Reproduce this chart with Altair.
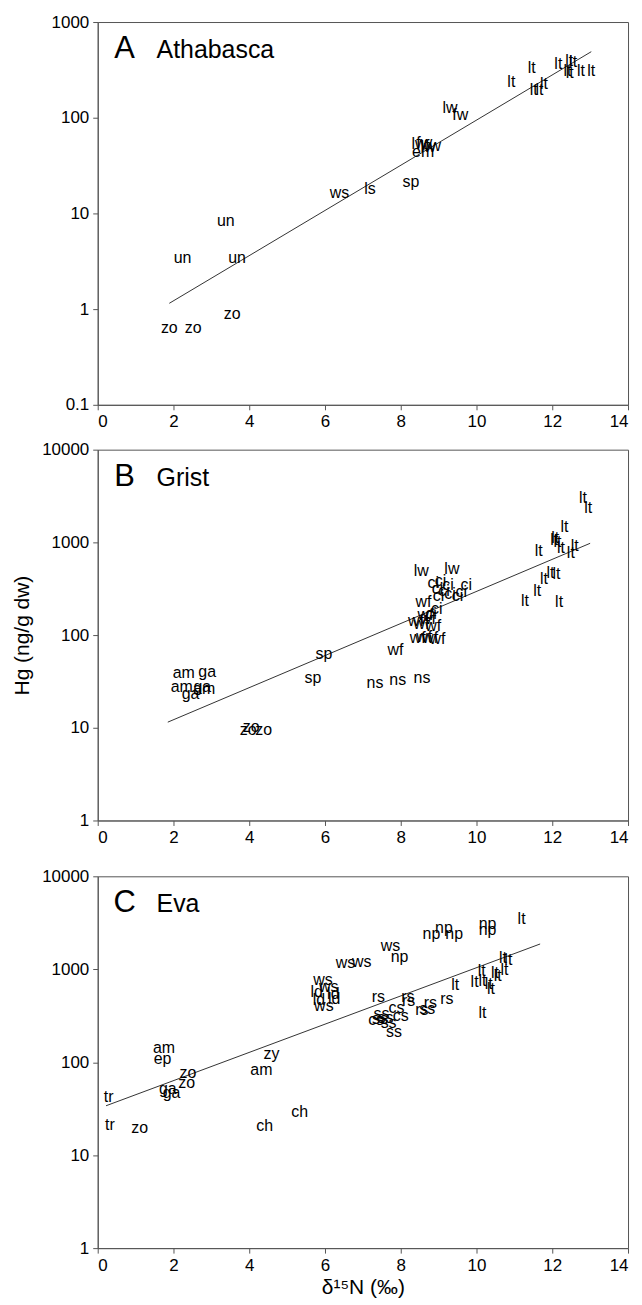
import altair as alt
import pandas as pd

# ---------------- Panel A: Athabasca ----------------
A_lab = ["zo", "zo", "zo", "un", "un", "un", "ws", "ls", "sp", "em",
         "lw", "fw", "lw", "fw", "lw", "fw",
         "lt", "lt", "lt", "lt", "lt", "lt", "lt", "lt", "lt", "lt", "lt", "lt"]
A_x = [1.89, 2.52, 3.55, 2.24, 3.38, 3.68, 6.38, 7.19, 8.27, 8.59,
       8.48, 8.62, 8.72, 8.85, 9.30, 9.57,
       10.92, 11.46, 11.51, 11.66, 11.78, 12.16, 12.45, 12.40, 12.55, 12.46, 12.76, 13.03]
A_y = [0.635, 0.635, 0.89, 3.39, 8.26, 3.4, 16.3, 17.9, 21.1, 43.3,
       53.7, 55, 50, 51, 127, 107,
       238, 328, 195, 195, 225, 364, 394, 310, 380, 290, 305, 305]
A_fit_x = [1.89, 13.03]
A_fit_y = [1.15, 490]

# ---------------- Panel B: Grist ----------------
B_lab = ["am", "ga", "am", "ga", "ga", "am", "zo", "zo", "zo", "sp", "sp",
         "ns", "ns", "ns",
         "wf", "wf", "wf", "wf", "wf", "wf", "wf", "wf", "wf", "wf", "wf",
         "lw", "lw",
         "ci", "ci", "ci", "ci", "ci", "ci", "ci", "ci", "ci", "ci", "ci", "ci",
         "lt", "lt", "lt", "lt", "lt", "lt", "lt", "lt", "lt", "lt", "lt", "lt",
         "lt", "lt", "lt", "lt"]
B_x = [2.27, 2.89, 2.22, 2.76, 2.45, 2.81, 3.97, 4.05, 4.38, 5.97, 5.68,
       7.32, 7.92, 8.56,
       7.86, 8.45, 8.62, 8.78, 8.97, 8.40, 8.55, 8.72, 8.86, 8.65, 8.60,
       8.54, 9.35,
       8.86, 9.05, 9.25, 9.73, 8.97, 9.14, 9.30, 9.50, 9.60, 9.00, 8.95, 8.80,
       11.28, 11.60, 11.78, 11.95, 12.11, 12.18, 11.64, 12.32, 12.08, 12.14,
       12.05, 12.23, 12.49, 12.59, 12.81, 12.95]
B_y = [38.7, 39.7, 27.8, 27.8, 23.2, 25.9, 9.35, 10.2, 9.35, 62, 34.2,
       30.5, 33.1, 34.5,
       69.5, 94, 96, 92, 90, 143, 130, 150, 125, 165, 225,
       492, 521,
       368, 380, 350, 348, 315, 295, 275, 265, 290, 265, 190, 170,
       234, 300, 400, 472, 460, 225, 807, 1462, 1122, 1000,
       1060, 877, 774, 914, 2972, 2360]
B_fit_x = [1.85, 13.0]
B_fit_y = [11.5, 977]

# ---------------- Panel C: Eva ----------------
C_lab = ["tr", "tr", "zo", "am", "ep", "zo", "zo", "ga", "ga",
         "zy", "am", "ch", "ch",
         "ws", "ws", "ld", "ld", "ld", "ld", "ws", "ws", "ws", "ws",
         "np", "np", "np", "np", "np", "np", "lt",
         "rs", "rs", "rs", "rs", "rs", "rs",
         "ss", "cs", "cs", "ss", "ss", "cs", "ss", "ss", "ss",
         "lt", "lt", "lt", "lt", "lt", "lt", "lt", "lt", "lt", "lt", "lt", "lt"]
C_x = [0.29, 0.32, 1.11, 1.75, 1.71, 2.38, 2.35, 1.85, 1.95,
       4.59, 4.32, 4.41, 5.33,
       5.95, 6.10, 5.78, 6.22, 5.84, 6.24, 5.97, 6.54, 6.97, 7.73,
       7.97, 8.81, 9.14, 9.41, 10.29, 10.29, 11.19,
       7.41, 8.19, 8.21, 9.22, 8.78, 8.56,
       8.70, 7.89, 8.00, 7.49, 7.60, 7.35, 7.68, 7.82, 7.45,
       9.44, 9.95, 10.14, 10.16, 10.32, 10.38, 10.49, 10.56, 10.74, 10.70, 10.84, 10.16]
C_y = [41.8, 21.2, 19.6, 143.6, 107.6, 77.4, 59.5, 51, 47,
       122, 82.8, 20.7, 29.3,
       765, 644, 569, 537, 467, 474, 402, 1174, 1200, 1774,
       1351, 2366, 2744, 2410, 3077, 2612, 3483,
       503, 503, 455, 474, 437, 365,
       370, 380, 314, 333, 300, 285, 267, 212, 290,
       676, 734, 955, 747, 687, 608, 920, 845, 972, 1332, 1244, 341]
C_fit_x = [0.22, 11.68]
C_fit_y = [34, 1870]

FONT = "Liberation Sans"
X_TICKS = [0, 2, 4, 6, 8, 10, 12, 14]
AX_COL = "#555555"


def panel(labels, xs, ys, fx, fy, letter, name, ydom, yticks, height,
          ytitle=None, xtitle=None):
    pts = pd.DataFrame({"lab": labels, "x": xs, "y": ys})
    fit = pd.DataFrame({"x": fx, "y": fy})
    common = dict(grid=False, tickSize=5, labelFont=FONT, labelFontSize=17,
                  labelColor="black", domainColor=AX_COL, tickColor=AX_COL,
                  titleFontSize=21, titleFontWeight="normal", titleFont=FONT,
                  titleColor="black")
    xaxis = alt.Axis(values=X_TICKS, format="d", labelPadding=4,
                     titlePadding=4, **common)
    yaxis = alt.Axis(values=yticks, format="~g", labelPadding=4,
                     titlePadding=9, **common)
    xenc = alt.X("x:Q", scale=alt.Scale(domain=[0, 14], nice=False),
                 axis=xaxis, title=xtitle)
    yenc = alt.Y("y:Q", scale=alt.Scale(type="log", domain=ydom, nice=False),
                 axis=yaxis, title=ytitle)
    line = alt.Chart(fit).mark_line(color="#333333", strokeWidth=1).encode(
        x=xenc, y=yenc)
    txt = alt.Chart(pts).mark_text(font=FONT, fontSize=16, color="black",
                                   align="center", baseline="middle").encode(
        x="x:Q", y="y:Q", text="lab:N")
    let = alt.Chart(pd.DataFrame({"t": [letter]})).mark_text(
        font=FONT, fontSize=31, color="black", align="center",
        baseline="middle").encode(x=alt.value(27), y=alt.value(27), text="t:N")
    nm = alt.Chart(pd.DataFrame({"t": [name]})).mark_text(
        font=FONT, fontSize=25, color="black", align="left",
        baseline="middle").encode(x=alt.value(59), y=alt.value(28), text="t:N")
    return alt.layer(line, txt, let, nm).properties(width=532, height=height)


pA = panel(A_lab, A_x, A_y, A_fit_x, A_fit_y, "A", "Athabasca",
           [0.1, 1000], [0.1, 1, 10, 100, 1000], 384)
pB = panel(B_lab, B_x, B_y, B_fit_x, B_fit_y, "B", "Grist",
           [1, 10000], [1, 10, 100, 1000, 10000], 372, ytitle="Hg (ng/g dw)")
pC = panel(C_lab, C_x, C_y, C_fit_x, C_fit_y, "C", "Eva",
           [1, 10000], [1, 10, 100, 1000, 10000], 373, xtitle="δ¹⁵N (‰)")

top = alt.vconcat(pA, pB, spacing=9)
chart = alt.vconcat(top, pC, spacing=20).configure_view(
    stroke=AX_COL, strokeWidth=1
).properties(background="white", padding={"left": 3, "top": 2, "right": 5, "bottom": 5})

chart.save("out.html", embed_options={"renderer": "svg", "actions": False})
